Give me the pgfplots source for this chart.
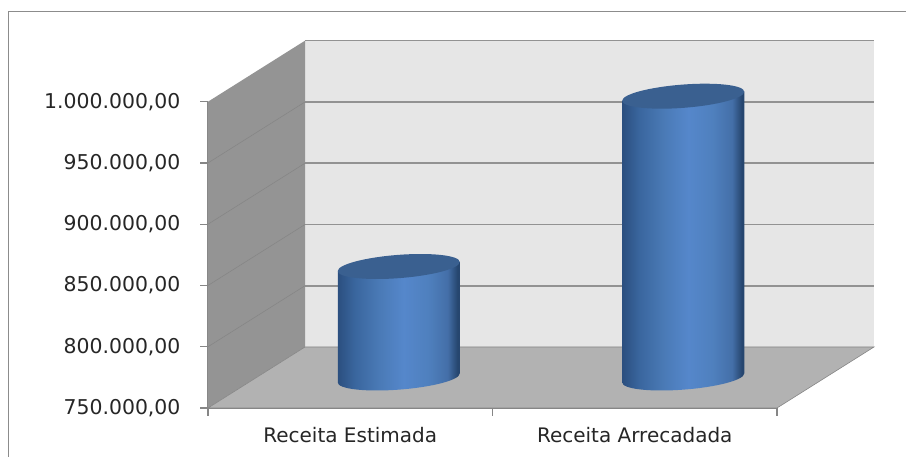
\documentclass[border=0pt]{standalone}
\usepackage{pgfplots}
\pgfplotsset{compat=1.18}
\usepackage{fontspec}
\setmainfont{DejaVu Sans}
\definecolor{framecol}{HTML}{8C8C8C}
\definecolor{axiscol}{HTML}{868686}
\definecolor{gridcol}{HTML}{929292}
\definecolor{sidewall}{HTML}{949494}
\definecolor{backwall}{HTML}{E6E6E6}
\definecolor{floorcol}{HTML}{B2B2B2}
\definecolor{capcol}{HTML}{3A6090}
\definecolor{textcol}{HTML}{262626}
\definecolor{cyla}{HTML}{2B4F7F}
\definecolor{cylb}{HTML}{3A669E}
\definecolor{cylc}{HTML}{4A7AB6}
\definecolor{cyld}{HTML}{5587CB}
\definecolor{cyle}{HTML}{4F80BE}
\definecolor{cylf}{HTML}{446FA8}
\definecolor{cylg}{HTML}{26466F}
% horizontal light across the cylinder (path fills 25bp..75bp)
\pgfdeclarehorizontalshading{cylshade}{100bp}{
  color(0bp)=(cyla);
  color(25bp)=(cyla);
  color(32bp)=(cylb);
  color(42bp)=(cylc);
  color(52bp)=(cyld);
  color(62bp)=(cyle);
  color(70bp)=(cylf);
  color(74bp)=(cylg);
  color(75bp)=(cylg);
  color(100bp)=(cylg)
}
% one whole cylinder, height from the plotted value; the origin is the centre of the top
% the ellipses lean a little, as in the perspective of the box
\pgfdeclareplotmark{cylinder}{%
  \pgflowlevel{\pgftransformshift{\pgfqpoint{48.5pt}{30pt}}}%
  \shade[shading=cylshade,draw=none] (-61pt,-4.51pt) -- (-61pt,-4.51pt-\cylh pt)
    .. controls (-61pt,-10.95pt-\cylh pt) and (-33.69pt,-14.15pt-\cylh pt) .. (0pt,-11.66pt-\cylh pt)
    .. controls (33.69pt,-9.17pt-\cylh pt) and (61pt,-1.93pt-\cylh pt) .. (61pt,4.51pt-\cylh pt)
    -- (61pt,4.51pt) -- cycle;
  \fill[capcol,draw=none] (61pt,4.51pt)
    .. controls (61pt,10.95pt) and (33.69pt,14.15pt) .. (0pt,11.66pt)
    .. controls (-33.69pt,9.17pt) and (-61pt,1.93pt) .. (-61pt,-4.51pt)
    .. controls (-61pt,-10.95pt) and (-33.69pt,-14.15pt) .. (0pt,-11.66pt)
    .. controls (33.69pt,-9.17pt) and (61pt,-1.93pt) .. (61pt,4.51pt) -- cycle;
}
\begin{document}
\begin{tikzpicture}[x=1pt,y=1pt]
  \path[use as bounding box] (0,0) rectangle (906,457);
  \draw[framecol,line width=1pt] (8.5,0) -- (8.5,445.5) -- (906,445.5);
  \begin{axis}[
    at={(208pt,49pt)},
    anchor=origin,
    scale only axis,
    width=569pt,
    height=306.3pt,
    xmin=0.5, xmax=2.5,
    ymin=750000, ymax=1000000,
    clip=false,
    axis x line*=bottom,
    axis y line*=left,
    axis line style={draw=axiscol,line width=1.2pt,-},
    tick align=outside,
    major tick length=8pt,
    tick style={draw=axiscol,line width=1.2pt},
    xtick={0.5,1.5,2.5},
    x tick label as interval,
    xticklabels={Receita Estimada,Receita Arrecadada},
    xticklabel style={yshift=-8pt},
    ytick={750000,800000,850000,900000,950000,1000000},
    scaled y ticks=false,
    yticklabel style={
      xshift=-16pt,
      font=\fontsize{20.4}{24}\selectfont,
      /pgf/number format/.cd,
      fixed, fixed zerofill, precision=2,
      1000 sep={.}, dec sep={,},
      assume math mode=true,
    },
    tick label style={font=\fontsize{20}{24}\selectfont,text=textcol},
  ]
  % walls and floor of the box
  \addplot[draw=none,fill=backwall,forget plot] coordinates {
    (0.841,799800) (2.841,799800) (2.841,1049800) (0.841,1049800)};
  \addplot[draw=none,fill=sidewall,forget plot] coordinates {
    (0.5,750000) (0.841,799800) (0.841,1049800) (0.5,1000000)};
  \addplot[draw=axiscol,line width=0.6pt,fill=floorcol,forget plot] coordinates {
    (0.5,750000) (2.5,750000) (2.841,799800) (0.841,799800) (0.5,750000)};
  % gridlines
  \pgfplotsinvokeforeach{849800,899800,949800,999800,1049800}{
    \addplot[draw=gridcol,line width=1.6pt,forget plot] coordinates {(0.841,#1) (2.841,#1)};
  }
  \addplot[draw=axiscol,line width=0.6pt,forget plot] coordinates {(0.5,800000) (0.841,849800)};
  \addplot[draw=axiscol,line width=0.6pt,forget plot] coordinates {(0.5,850000) (0.841,899800)};
  \addplot[draw=axiscol,line width=0.6pt,forget plot] coordinates {(0.5,900000) (0.841,949800)};
  \addplot[draw=axiscol,line width=0.6pt,forget plot] coordinates {(0.5,950000) (0.841,999800)};
  % the two cylinders
  \addplot[
    scatter,
    only marks,
    mark=cylinder,
    visualization depends on={(rawy-750000)*306.3/250000 \as \cylh},
    scatter/@pre marker code/.code={\pgfscope},
    scatter/@post marker code/.code={\endpgfscope},
  ] coordinates {
    (1,841000)
    (2,980000)
  };
  \end{axis}
\end{tikzpicture}
\end{document}
